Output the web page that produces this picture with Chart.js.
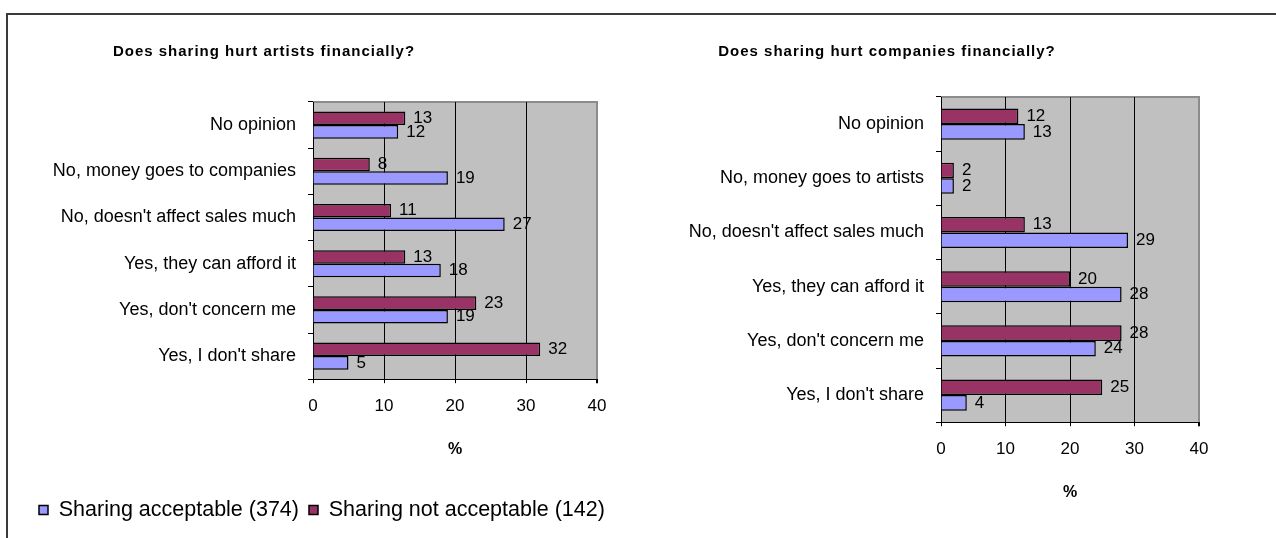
<!DOCTYPE html>
<html>
<head>
<meta charset="utf-8">
<title>File sharing survey</title>
<script src="https://cdn.jsdelivr.net/npm/chart.js@4.4.1/dist/chart.umd.min.js"></script>
<style>
  body { margin: 0; background: #fff; width: 1276px; height: 538px; overflow: hidden; position: relative; }
  #frame { position: absolute; left: 6px; top: 13px; width: 1300px; height: 560px; border-top: 2px solid #3a3a3a; border-left: 2px solid #3a3a3a; }
  #artists { position: absolute; left: 0; top: 0; }
  #companies { position: absolute; left: 640px; top: 0; }
</style>
</head>
<body>
<div id="frame"></div>
<canvas id="artists" width="640" height="538"></canvas>
<canvas id="companies" width="636" height="538"></canvas>
<script>
// survey answers, in % of each group
const seriesNames = ['Sharing acceptable (374)', 'Sharing not acceptable (142)'];
const xTicks = [0, 10, 20, 30, 40];

const artistCats = ['No opinion', 'No, money goes to companies', "No, doesn't affect sales much",
  'Yes, they can afford it', "Yes, don't concern me", "Yes, I don't share"];
const artistAcceptable = [12, 19, 27, 18, 19, 5];
const artistNotAcceptable = [13, 8, 11, 13, 23, 32];

const companyCats = ['No opinion', 'No, money goes to artists', "No, doesn't affect sales much",
  'Yes, they can afford it', "Yes, don't concern me", "Yes, I don't share"];
const companyAcceptable = [13, 2, 29, 28, 24, 4];
const companyNotAcceptable = [12, 2, 13, 20, 28, 25];

const fontFamily = '"Liberation Sans", Arial, sans-serif';
Chart.defaults.font.family = fontFamily;
Chart.defaults.color = '#000';

// grey plot area with a light frame on top and right
const plotBack = {
  id: 'plotBack',
  beforeDraw(chart) {
    const { ctx, chartArea: a } = chart;
    ctx.save();
    ctx.fillStyle = '#c0c0c0';
    ctx.fillRect(a.left, a.top, a.width, a.height);
    ctx.strokeStyle = '#8c8c8c';
    ctx.lineWidth = 2;
    ctx.beginPath();
    ctx.moveTo(a.left, a.top);
    ctx.lineTo(a.right, a.top);
    ctx.lineTo(a.right, a.bottom);
    ctx.stroke();
    ctx.restore();
  }
};

// numbers at the end of each bar
const valueLabels = {
  id: 'valueLabels',
  afterDatasetsDraw(chart) {
    const ctx = chart.ctx;
    ctx.save();
    ctx.font = '17px ' + fontFamily;
    ctx.fillStyle = '#000';
    ctx.textBaseline = 'middle';
    chart.data.datasets.forEach((ds, i) => {
      chart.getDatasetMeta(i).data.forEach((bar, j) => {
        ctx.fillText(ds.data[j], bar.x + 8, bar.y);
      });
    });
    ctx.restore();
  }
};

// spaced-out bold heading
const heading = {
  id: 'heading',
  afterDraw(chart, args, opts) {
    const ctx = chart.ctx;
    ctx.save();
    ctx.font = 'bold 15px ' + fontFamily;
    ctx.letterSpacing = '1px';
    ctx.textAlign = 'center';
    ctx.textBaseline = 'middle';
    ctx.fillStyle = '#000';
    ctx.fillText(opts.text, opts.x, opts.y);
    ctx.restore();
  }
};

function makeChart(id, cats, acc, notAcc, o) {
  return new Chart(document.getElementById(id), {
    type: 'bar',
    data: {
      labels: cats,
      datasets: [
        { label: seriesNames[0], data: acc, backgroundColor: '#9999ff', order: 1 },
        { label: seriesNames[1], data: notAcc, backgroundColor: '#993366', order: 0 }
      ].map(d => Object.assign(d, {
        xAxisID: 'x', yAxisID: 'y',
        borderColor: '#000', borderWidth: 1.5,
        barPercentage: 1, categoryPercentage: o.catPct
      }))
    },
    options: {
      indexAxis: 'y',
      responsive: false,
      animation: false,
      layout: { padding: o.padding },
      scales: {
        x: {
          min: 0, max: 40,
          afterBuildTicks: s => { s.ticks = xTicks.map(v => ({ value: v })); },
          grid: {
            color: c => (c.tick && c.tick.value === 40 ? '#8c8c8c' : '#000'),
            lineWidth: c => (c.tick && c.tick.value === 40 ? 2 : 1),
            tickColor: '#000', tickLength: 4
          },
          border: { color: '#000', width: 1 },
          ticks: { font: { size: 17 }, padding: 12.8 },
          title: {
            display: true, text: '%',
            font: { size: 16, weight: 'bold' },
            padding: { top: 11.2, bottom: o.titleBottom }
          }
        },
        y: {
          grid: { offset: true, drawOnChartArea: false, tickLength: 5, color: '#000' },
          border: { color: '#000', width: 1 },
          ticks: { font: { size: 18 }, padding: 12 },
          afterFit: s => { s.width = o.axisWidth; }
        },
        // empty strip to the right of the plot
        gap: {
          type: 'linear', position: 'right',
          ticks: { display: false }, grid: { display: false }, border: { display: false },
          afterFit: s => { s.width = o.gapWidth; }
        }
      },
      plugins: {
        legend: {
          display: o.legend,
          position: 'bottom',
          align: 'start',
          labels: {
            boxWidth: 9, boxHeight: 9, padding: 10,
            font: { size: 21.5 },
            sort: (a, b) => a.datasetIndex - b.datasetIndex
          }
        },
        tooltip: { enabled: false },
        heading: { text: o.title, x: o.titleX, y: 52 }
      }
    },
    plugins: [plotBack, valueLabels, heading]
  });
}

makeChart('artists', artistCats, artistAcceptable, artistNotAcceptable, {
  title: 'Does sharing hurt artists financially?', titleX: 264,
  padding: { top: 102, left: 29, right: 0, bottom: 7.25 },
  axisWidth: 284, gapWidth: 43, titleBottom: 29.65, catPct: 0.586, legend: true
});

makeChart('companies', companyCats, companyAcceptable, companyNotAcceptable, {
  title: 'Does sharing hurt companies financially?', titleX: 247,
  padding: { top: 97, left: 0, right: 0, bottom: 30.4 },
  axisWidth: 301, gapWidth: 77, titleBottom: 5, catPct: 0.574, legend: false
});
</script>
</body>
</html>
